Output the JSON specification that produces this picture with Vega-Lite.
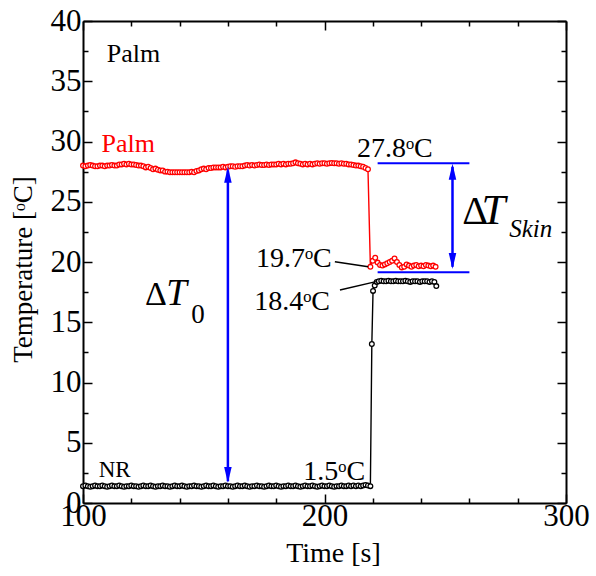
{
  "$schema": "https://vega.github.io/schema/vega-lite/v6.json",
  "width": 483,
  "height": 482,
  "autosize": {"type": "none"},
  "padding": {"left": 83, "top": 21, "right": 30, "bottom": 73},
  "config": {"view": {"stroke": null}, "font": "Liberation Serif, Times New Roman, serif"},
  "datasets": {
    "temps": [
      {"t":100,"T":28.0,"s":"Palm"},{"t":101,"T":27.95,"s":"Palm"},{"t":102,"T":28.0,"s":"Palm"},{"t":103,"T":28.05,"s":"Palm"},{"t":104,"T":28.0,"s":"Palm"},
      {"t":105,"T":27.95,"s":"Palm"},{"t":106,"T":27.95,"s":"Palm"},{"t":107,"T":28.0,"s":"Palm"},{"t":108,"T":28.0,"s":"Palm"},{"t":109,"T":27.95,"s":"Palm"},
      {"t":110,"T":28.0,"s":"Palm"},{"t":111,"T":28.0,"s":"Palm"},{"t":112,"T":28.05,"s":"Palm"},{"t":113,"T":28.0,"s":"Palm"},{"t":114,"T":28.0,"s":"Palm"},
      {"t":115,"T":28.1,"s":"Palm"},{"t":116,"T":28.1,"s":"Palm"},{"t":117,"T":28.15,"s":"Palm"},{"t":118,"T":28.1,"s":"Palm"},{"t":119,"T":28.15,"s":"Palm"},
      {"t":120,"T":28.1,"s":"Palm"},{"t":121,"T":28.1,"s":"Palm"},{"t":122,"T":28.05,"s":"Palm"},{"t":123,"T":28.0,"s":"Palm"},{"t":124,"T":28.0,"s":"Palm"},
      {"t":125,"T":27.95,"s":"Palm"},{"t":126,"T":27.85,"s":"Palm"},{"t":127,"T":27.9,"s":"Palm"},{"t":128,"T":27.8,"s":"Palm"},{"t":129,"T":27.7,"s":"Palm"},
      {"t":130,"T":27.75,"s":"Palm"},{"t":131,"T":27.65,"s":"Palm"},{"t":132,"T":27.6,"s":"Palm"},{"t":133,"T":27.6,"s":"Palm"},{"t":134,"T":27.5,"s":"Palm"},
      {"t":135,"T":27.5,"s":"Palm"},{"t":136,"T":27.45,"s":"Palm"},{"t":137,"T":27.45,"s":"Palm"},{"t":138,"T":27.45,"s":"Palm"},{"t":139,"T":27.45,"s":"Palm"},
      {"t":140,"T":27.45,"s":"Palm"},{"t":141,"T":27.45,"s":"Palm"},{"t":142,"T":27.45,"s":"Palm"},{"t":143,"T":27.45,"s":"Palm"},{"t":144,"T":27.45,"s":"Palm"},
      {"t":145,"T":27.5,"s":"Palm"},{"t":146,"T":27.45,"s":"Palm"},{"t":147,"T":27.55,"s":"Palm"},{"t":148,"T":27.6,"s":"Palm"},{"t":149,"T":27.7,"s":"Palm"},
      {"t":150,"T":27.75,"s":"Palm"},{"t":151,"T":27.7,"s":"Palm"},{"t":152,"T":27.8,"s":"Palm"},{"t":153,"T":27.8,"s":"Palm"},{"t":154,"T":27.85,"s":"Palm"},
      {"t":155,"T":27.85,"s":"Palm"},{"t":156,"T":27.85,"s":"Palm"},{"t":157,"T":27.85,"s":"Palm"},{"t":158,"T":27.9,"s":"Palm"},{"t":159,"T":27.85,"s":"Palm"},
      {"t":160,"T":27.9,"s":"Palm"},{"t":161,"T":27.95,"s":"Palm"},{"t":162,"T":27.95,"s":"Palm"},{"t":163,"T":27.9,"s":"Palm"},{"t":164,"T":27.95,"s":"Palm"},
      {"t":165,"T":27.95,"s":"Palm"},{"t":166,"T":27.95,"s":"Palm"},{"t":167,"T":28.0,"s":"Palm"},{"t":168,"T":28.05,"s":"Palm"},{"t":169,"T":28.0,"s":"Palm"},
      {"t":170,"T":28.05,"s":"Palm"},{"t":171,"T":28.0,"s":"Palm"},{"t":172,"T":28.05,"s":"Palm"},{"t":173,"T":28.1,"s":"Palm"},{"t":174,"T":28.05,"s":"Palm"},
      {"t":175,"T":28.05,"s":"Palm"},{"t":176,"T":28.1,"s":"Palm"},{"t":177,"T":28.05,"s":"Palm"},{"t":178,"T":28.1,"s":"Palm"},{"t":179,"T":28.1,"s":"Palm"},
      {"t":180,"T":28.1,"s":"Palm"},{"t":181,"T":28.15,"s":"Palm"},{"t":182,"T":28.1,"s":"Palm"},{"t":183,"T":28.15,"s":"Palm"},{"t":184,"T":28.1,"s":"Palm"},
      {"t":185,"T":28.15,"s":"Palm"},{"t":186,"T":28.15,"s":"Palm"},{"t":187,"T":28.2,"s":"Palm"},{"t":188,"T":28.27,"s":"Palm"},{"t":189,"T":28.2,"s":"Palm"},
      {"t":190,"T":28.15,"s":"Palm"},{"t":191,"T":28.1,"s":"Palm"},{"t":192,"T":28.15,"s":"Palm"},{"t":193,"T":28.1,"s":"Palm"},{"t":194,"T":28.15,"s":"Palm"},
      {"t":195,"T":28.1,"s":"Palm"},{"t":196,"T":28.15,"s":"Palm"},{"t":197,"T":28.2,"s":"Palm"},{"t":198,"T":28.15,"s":"Palm"},{"t":199,"T":28.2,"s":"Palm"},
      {"t":200,"T":28.2,"s":"Palm"},{"t":201,"T":28.15,"s":"Palm"},{"t":202,"T":28.2,"s":"Palm"},{"t":203,"T":28.22,"s":"Palm"},{"t":204,"T":28.2,"s":"Palm"},
      {"t":205,"T":28.2,"s":"Palm"},{"t":206,"T":28.15,"s":"Palm"},{"t":207,"T":28.2,"s":"Palm"},{"t":208,"T":28.15,"s":"Palm"},{"t":209,"T":28.15,"s":"Palm"},
      {"t":210,"T":28.1,"s":"Palm"},{"t":211,"T":28.1,"s":"Palm"},{"t":212,"T":28.05,"s":"Palm"},{"t":213,"T":28.0,"s":"Palm"},{"t":214,"T":28.0,"s":"Palm"},
      {"t":215,"T":27.95,"s":"Palm"},{"t":216,"T":27.9,"s":"Palm"},{"t":217,"T":27.8,"s":"Palm"},{"t":218,"T":27.7,"s":"Palm"},{"t":219,"T":19.6,"s":"Palm"},
      {"t":220,"T":20.1,"s":"Palm"},{"t":221,"T":20.35,"s":"Palm"},{"t":222,"T":19.95,"s":"Palm"},{"t":223,"T":19.75,"s":"Palm"},{"t":224,"T":19.7,"s":"Palm"},
      {"t":225,"T":19.8,"s":"Palm"},{"t":226,"T":19.9,"s":"Palm"},{"t":227,"T":20.0,"s":"Palm"},{"t":228,"T":20.1,"s":"Palm"},{"t":229,"T":20.3,"s":"Palm"},
      {"t":230,"T":20.0,"s":"Palm"},{"t":231,"T":19.75,"s":"Palm"},{"t":232,"T":19.55,"s":"Palm"},{"t":233,"T":19.6,"s":"Palm"},{"t":234,"T":19.8,"s":"Palm"},
      {"t":235,"T":19.7,"s":"Palm"},{"t":236,"T":19.6,"s":"Palm"},{"t":237,"T":19.7,"s":"Palm"},{"t":238,"T":19.75,"s":"Palm"},{"t":239,"T":19.65,"s":"Palm"},
      {"t":240,"T":19.7,"s":"Palm"},{"t":241,"T":19.65,"s":"Palm"},{"t":242,"T":19.75,"s":"Palm"},{"t":243,"T":19.7,"s":"Palm"},{"t":244,"T":19.65,"s":"Palm"},
      {"t":245,"T":19.7,"s":"Palm"},{"t":246,"T":19.6,"s":"Palm"},
      {"t":100,"T":1.4,"s":"NR"},{"t":101,"T":1.45,"s":"NR"},{"t":102,"T":1.4,"s":"NR"},{"t":103,"T":1.35,"s":"NR"},{"t":104,"T":1.4,"s":"NR"},
      {"t":105,"T":1.45,"s":"NR"},{"t":106,"T":1.4,"s":"NR"},{"t":107,"T":1.4,"s":"NR"},{"t":108,"T":1.45,"s":"NR"},{"t":109,"T":1.4,"s":"NR"},
      {"t":110,"T":1.35,"s":"NR"},{"t":111,"T":1.4,"s":"NR"},{"t":112,"T":1.45,"s":"NR"},{"t":113,"T":1.4,"s":"NR"},{"t":114,"T":1.4,"s":"NR"},
      {"t":115,"T":1.45,"s":"NR"},{"t":116,"T":1.4,"s":"NR"},{"t":117,"T":1.35,"s":"NR"},{"t":118,"T":1.4,"s":"NR"},{"t":119,"T":1.4,"s":"NR"},
      {"t":120,"T":1.45,"s":"NR"},{"t":121,"T":1.4,"s":"NR"},{"t":122,"T":1.4,"s":"NR"},{"t":123,"T":1.35,"s":"NR"},{"t":124,"T":1.4,"s":"NR"},
      {"t":125,"T":1.45,"s":"NR"},{"t":126,"T":1.4,"s":"NR"},{"t":127,"T":1.4,"s":"NR"},{"t":128,"T":1.45,"s":"NR"},{"t":129,"T":1.4,"s":"NR"},
      {"t":130,"T":1.35,"s":"NR"},{"t":131,"T":1.4,"s":"NR"},{"t":132,"T":1.4,"s":"NR"},{"t":133,"T":1.45,"s":"NR"},{"t":134,"T":1.4,"s":"NR"},
      {"t":135,"T":1.4,"s":"NR"},{"t":136,"T":1.35,"s":"NR"},{"t":137,"T":1.4,"s":"NR"},{"t":138,"T":1.45,"s":"NR"},{"t":139,"T":1.4,"s":"NR"},
      {"t":140,"T":1.4,"s":"NR"},{"t":141,"T":1.45,"s":"NR"},{"t":142,"T":1.4,"s":"NR"},{"t":143,"T":1.35,"s":"NR"},{"t":144,"T":1.4,"s":"NR"},
      {"t":145,"T":1.4,"s":"NR"},{"t":146,"T":1.45,"s":"NR"},{"t":147,"T":1.4,"s":"NR"},{"t":148,"T":1.4,"s":"NR"},{"t":149,"T":1.35,"s":"NR"},
      {"t":150,"T":1.4,"s":"NR"},{"t":151,"T":1.45,"s":"NR"},{"t":152,"T":1.4,"s":"NR"},{"t":153,"T":1.4,"s":"NR"},{"t":154,"T":1.45,"s":"NR"},
      {"t":155,"T":1.4,"s":"NR"},{"t":156,"T":1.35,"s":"NR"},{"t":157,"T":1.4,"s":"NR"},{"t":158,"T":1.4,"s":"NR"},{"t":159,"T":1.45,"s":"NR"},
      {"t":160,"T":1.4,"s":"NR"},{"t":161,"T":1.4,"s":"NR"},{"t":162,"T":1.35,"s":"NR"},{"t":163,"T":1.4,"s":"NR"},{"t":164,"T":1.45,"s":"NR"},
      {"t":165,"T":1.4,"s":"NR"},{"t":166,"T":1.4,"s":"NR"},{"t":167,"T":1.45,"s":"NR"},{"t":168,"T":1.4,"s":"NR"},{"t":169,"T":1.35,"s":"NR"},
      {"t":170,"T":1.4,"s":"NR"},{"t":171,"T":1.4,"s":"NR"},{"t":172,"T":1.45,"s":"NR"},{"t":173,"T":1.4,"s":"NR"},{"t":174,"T":1.4,"s":"NR"},
      {"t":175,"T":1.35,"s":"NR"},{"t":176,"T":1.4,"s":"NR"},{"t":177,"T":1.45,"s":"NR"},{"t":178,"T":1.4,"s":"NR"},{"t":179,"T":1.4,"s":"NR"},
      {"t":180,"T":1.45,"s":"NR"},{"t":181,"T":1.4,"s":"NR"},{"t":182,"T":1.35,"s":"NR"},{"t":183,"T":1.4,"s":"NR"},{"t":184,"T":1.4,"s":"NR"},
      {"t":185,"T":1.45,"s":"NR"},{"t":186,"T":1.4,"s":"NR"},{"t":187,"T":1.4,"s":"NR"},{"t":188,"T":1.45,"s":"NR"},{"t":189,"T":1.4,"s":"NR"},
      {"t":190,"T":1.35,"s":"NR"},{"t":191,"T":1.4,"s":"NR"},{"t":192,"T":1.45,"s":"NR"},{"t":193,"T":1.4,"s":"NR"},{"t":194,"T":1.4,"s":"NR"},
      {"t":195,"T":1.45,"s":"NR"},{"t":196,"T":1.4,"s":"NR"},{"t":197,"T":1.35,"s":"NR"},{"t":198,"T":1.4,"s":"NR"},{"t":199,"T":1.45,"s":"NR"},
      {"t":200,"T":1.4,"s":"NR"},{"t":201,"T":1.4,"s":"NR"},{"t":202,"T":1.45,"s":"NR"},{"t":203,"T":1.4,"s":"NR"},{"t":204,"T":1.35,"s":"NR"},
      {"t":205,"T":1.4,"s":"NR"},{"t":206,"T":1.4,"s":"NR"},{"t":207,"T":1.45,"s":"NR"},{"t":208,"T":1.4,"s":"NR"},{"t":209,"T":1.4,"s":"NR"},
      {"t":210,"T":1.45,"s":"NR"},{"t":211,"T":1.4,"s":"NR"},{"t":212,"T":1.45,"s":"NR"},{"t":213,"T":1.4,"s":"NR"},{"t":214,"T":1.45,"s":"NR"},
      {"t":215,"T":1.4,"s":"NR"},{"t":216,"T":1.45,"s":"NR"},{"t":217,"T":1.5,"s":"NR"},{"t":218,"T":1.45,"s":"NR"},{"t":219,"T":1.4,"s":"NR"},
      {"t":219.6,"T":13.2,"s":"NR"},{"t":220.1,"T":17.6,"s":"NR"},{"t":220.8,"T":18.05,"s":"NR"},{"t":221.6,"T":18.35,"s":"NR"},{"t":222.5,"T":18.4,"s":"NR"},
      {"t":223.5,"T":18.45,"s":"NR"},{"t":224.5,"T":18.4,"s":"NR"},{"t":225.5,"T":18.4,"s":"NR"},{"t":226.5,"T":18.45,"s":"NR"},{"t":227.5,"T":18.4,"s":"NR"},
      {"t":228.5,"T":18.4,"s":"NR"},{"t":229.5,"T":18.45,"s":"NR"},{"t":230.5,"T":18.4,"s":"NR"},{"t":231.5,"T":18.4,"s":"NR"},{"t":232.5,"T":18.4,"s":"NR"},
      {"t":233.5,"T":18.45,"s":"NR"},{"t":234.5,"T":18.4,"s":"NR"},{"t":235.5,"T":18.35,"s":"NR"},{"t":236.5,"T":18.4,"s":"NR"},{"t":237.5,"T":18.4,"s":"NR"},
      {"t":238.5,"T":18.4,"s":"NR"},{"t":239.5,"T":18.35,"s":"NR"},{"t":240.5,"T":18.4,"s":"NR"},{"t":241.5,"T":18.4,"s":"NR"},{"t":242.5,"T":18.4,"s":"NR"},
      {"t":243.5,"T":18.35,"s":"NR"},{"t":244.5,"T":18.4,"s":"NR"},{"t":245.5,"T":18.35,"s":"NR"},{"t":246.3,"T":18.0,"s":"NR"}
    ]
  },
  "resolve": {"axis": {"x": "independent", "y": "independent"}},
  "layer": [
    {
      "data": {"name": "temps"},
      "mark": {"type": "line", "strokeWidth": 1.4},
      "encoding": {
        "x": {"field": "t", "type": "quantitative",
          "scale": {"domain": [100, 300], "nice": false, "zero": false},
          "axis": {"orient": "bottom", "values": [100,120,140,160,180,200,220,240,260,280,300],
            "labelExpr": "datum.value % 100 === 0 ? datum.label : ''",
            "tickSize": {"condition": {"test": "datum.value % 100 === 0", "value": -9}, "value": -5},
            "tickWidth": 1.5, "tickColor": "black", "domainColor": "black", "domainWidth": 2,
            "labelFont": "Liberation Serif, Times New Roman, serif", "labelFontSize": 31, "labelColor": "black", "labelPadding": 7,
            "labelFlush": false, "labelOverlap": false, "grid": false,
            "title": "Time [s]", "titleFont": "Liberation Serif, Times New Roman, serif", "titleFontSize": 28, "titleFontWeight": "normal",
            "titleColor": "black", "titleX": 250, "titleY": 58, "titleBaseline": "alphabetic", "titleAlign": "center"}},
        "y": {"field": "T", "type": "quantitative",
          "scale": {"domain": [0, 40], "nice": false, "zero": false},
          "axis": {"orient": "left", "values": [0,2.5,5,7.5,10,12.5,15,17.5,20,22.5,25,27.5,30,32.5,35,37.5,40],
            "labelExpr": "datum.value % 5 === 0 ? datum.label : ''",
            "tickSize": {"condition": {"test": "datum.value % 5 === 0", "value": -9}, "value": -5},
            "tickWidth": 1.5, "tickColor": "black", "domainColor": "black", "domainWidth": 2,
            "labelFont": "Liberation Serif, Times New Roman, serif", "labelFontSize": 31, "labelColor": "black", "labelPadding": 11,
            "labelFlush": false, "labelOverlap": false, "grid": false,
            "title": "Temperature [ᵒC]", "titleFont": "Liberation Serif, Times New Roman, serif", "titleFontSize": 27, "titleFontWeight": "normal",
            "titleColor": "black", "titleAngle": -90, "titleX": -52, "titleY": 248, "titleBaseline": "alphabetic", "titleAlign": "center"}},
        "color": {"field": "s", "type": "nominal", "scale": {"domain": ["Palm", "NR"], "range": ["#ff0000", "#000000"]}, "legend": null}
      }
    },
    {
      "data": {"name": "temps"},
      "mark": {"type": "point", "shape": "circle", "filled": false, "fill": "white", "size": 22, "strokeWidth": 1.3, "opacity": 1},
      "encoding": {
        "x": {"field": "t", "type": "quantitative",
          "axis": {"orient": "top", "values": [100,120,140,160,180,200,220,240,260,280,300], "labels": false, "title": null,
            "tickSize": {"condition": {"test": "datum.value % 100 === 0", "value": -9}, "value": -5},
            "tickWidth": 1.5, "tickColor": "black", "domainColor": "black", "domainWidth": 2, "grid": false}},
        "y": {"field": "T", "type": "quantitative",
          "axis": {"orient": "right", "values": [0,2.5,5,7.5,10,12.5,15,17.5,20,22.5,25,27.5,30,32.5,35,37.5,40], "labels": false, "title": null,
            "tickSize": {"condition": {"test": "datum.value % 5 === 0", "value": -9}, "value": -5},
            "tickWidth": 1.5, "tickColor": "black", "domainColor": "black", "domainWidth": 2, "grid": false}},
        "stroke": {"field": "s", "type": "nominal", "scale": {"domain": ["Palm", "NR"], "range": ["#ff0000", "#000000"]}, "legend": null}
      }
    },
    {
      "data": {"values": [{"a": 222, "b": 260, "T": 28.2}, {"a": 222, "b": 260, "T": 19.15}]},
      "mark": {"type": "rule", "color": "#0000ff", "strokeWidth": 2},
      "encoding": {
        "x": {"field": "a", "type": "quantitative", "axis": null},
        "x2": {"field": "b"},
        "y": {"field": "T", "type": "quantitative", "axis": null}
      }
    },
    {
      "data": {"values": [{"a": 160, "T": 1.8, "T2": 27.6}, {"a": 253, "T": 19.6, "T2": 27.9}]},
      "mark": {"type": "rule", "color": "#0000ff", "strokeWidth": 2.5},
      "encoding": {
        "x": {"field": "a", "type": "quantitative", "axis": null},
        "y": {"field": "T", "type": "quantitative", "axis": null},
        "y2": {"field": "T2"}
      }
    },
    {
      "data": {"values": [{"a": 160, "T": 27.24}, {"a": 253, "T": 27.49}]},
      "mark": {"type": "point", "shape": "M0,-1L-0.47,1L0.47,1Z", "filled": true, "color": "#0000ff", "size": 256, "opacity": 1},
      "encoding": {
        "x": {"field": "a", "type": "quantitative", "axis": null},
        "y": {"field": "T", "type": "quantitative", "axis": null}
      }
    },
    {
      "data": {"values": [{"a": 160, "T": 2.32}, {"a": 253, "T": 20.08}]},
      "mark": {"type": "point", "shape": "M0,1L-0.47,-1L0.47,-1Z", "filled": true, "color": "#0000ff", "size": 256, "opacity": 1},
      "encoding": {
        "x": {"field": "a", "type": "quantitative", "axis": null},
        "y": {"field": "T", "type": "quantitative", "axis": null}
      }
    },
    {
      "data": {"values": [{"a": 204.3, "T": 20.03, "b": 218.1, "T2": 19.6}, {"a": 206.4, "T": 17.68, "b": 221.3, "T2": 18.37}]},
      "mark": {"type": "rule", "color": "black", "strokeWidth": 1.5},
      "encoding": {
        "x": {"field": "a", "type": "quantitative", "axis": null},
        "y": {"field": "T", "type": "quantitative", "axis": null},
        "x2": {"field": "b"},
        "y2": {"field": "T2"}
      }
    },
    {
      "data": {"values": [{"a": 109.8, "T": 36.62, "txt": "Palm"}]},
      "mark": {"type": "text", "font": "Liberation Serif, Times New Roman, serif", "fontSize": 26, "align": "left", "baseline": "alphabetic", "color": "black"},
      "encoding": {
        "x": {"field": "a", "type": "quantitative", "axis": null},
        "y": {"field": "T", "type": "quantitative", "axis": null},
        "text": {"field": "txt"}
      }
    },
    {
      "data": {"values": [{"a": 107.7, "T": 29.15, "txt": "Palm"}]},
      "mark": {"type": "text", "font": "Liberation Serif, Times New Roman, serif", "fontSize": 26, "align": "left", "baseline": "alphabetic", "color": "#ff0000"},
      "encoding": {
        "x": {"field": "a", "type": "quantitative", "axis": null},
        "y": {"field": "T", "type": "quantitative", "axis": null},
        "text": {"field": "txt"}
      }
    },
    {
      "data": {"values": [{"a": 106.5, "T": 2.18, "txt": "NR"}]},
      "mark": {"type": "text", "font": "Liberation Serif, Times New Roman, serif", "fontSize": 23, "align": "left", "baseline": "alphabetic", "color": "black"},
      "encoding": {
        "x": {"field": "a", "type": "quantitative", "axis": null},
        "y": {"field": "T", "type": "quantitative", "axis": null},
        "text": {"field": "txt"}
      }
    },
    {
      "data": {"values": [
        {"a": 244.8, "T": 28.71, "txt": "27.8ᵒC"},
        {"a": 203.0, "T": 19.56, "txt": "19.7ᵒC"},
        {"a": 202.3, "T": 16.02, "txt": "18.4ᵒC"},
        {"a": 216.8, "T": 1.91, "txt": "1.5ᵒC"}
      ]},
      "mark": {"type": "text", "font": "Liberation Serif, Times New Roman, serif", "fontSize": 28, "align": "right", "baseline": "alphabetic", "color": "black"},
      "encoding": {
        "x": {"field": "a", "type": "quantitative", "axis": null},
        "y": {"field": "T", "type": "quantitative", "axis": null},
        "text": {"field": "txt"}
      }
    },
    {
      "data": {"values": [{"a": 125.7, "T": 16.43, "txt": "Δ"}]},
      "mark": {"type": "text", "font": "Liberation Serif, Times New Roman, serif", "fontSize": 34, "align": "left", "baseline": "alphabetic", "color": "black"},
      "encoding": {
        "x": {"field": "a", "type": "quantitative", "axis": null},
        "y": {"field": "T", "type": "quantitative", "axis": null},
        "text": {"field": "txt"}
      }
    },
    {
      "data": {"values": [{"a": 134.5, "T": 16.43, "txt": "T"}]},
      "mark": {"type": "text", "font": "Liberation Serif, Times New Roman, serif", "fontSize": 37, "fontStyle": "italic", "align": "left", "baseline": "alphabetic", "color": "black"},
      "encoding": {
        "x": {"field": "a", "type": "quantitative", "axis": null},
        "y": {"field": "T", "type": "quantitative", "axis": null},
        "text": {"field": "txt"}
      }
    },
    {
      "data": {"values": [{"a": 144.8, "T": 14.9, "txt": "0"}]},
      "mark": {"type": "text", "font": "Liberation Serif, Times New Roman, serif", "fontSize": 27, "align": "left", "baseline": "alphabetic", "color": "black"},
      "encoding": {
        "x": {"field": "a", "type": "quantitative", "axis": null},
        "y": {"field": "T", "type": "quantitative", "axis": null},
        "text": {"field": "txt"}
      }
    },
    {
      "data": {"values": [{"a": 257.0, "T": 23.15, "txt": "Δ"}]},
      "mark": {"type": "text", "font": "Liberation Serif, Times New Roman, serif", "fontSize": 40, "align": "left", "baseline": "alphabetic", "color": "black"},
      "encoding": {
        "x": {"field": "a", "type": "quantitative", "axis": null},
        "y": {"field": "T", "type": "quantitative", "axis": null},
        "text": {"field": "txt"}
      }
    },
    {
      "data": {"values": [{"a": 265.0, "T": 23.15, "txt": "T"}]},
      "mark": {"type": "text", "font": "Liberation Serif, Times New Roman, serif", "fontSize": 43, "fontStyle": "italic", "align": "left", "baseline": "alphabetic", "color": "black"},
      "encoding": {
        "x": {"field": "a", "type": "quantitative", "axis": null},
        "y": {"field": "T", "type": "quantitative", "axis": null},
        "text": {"field": "txt"}
      }
    },
    {
      "data": {"values": [{"a": 276.5, "T": 22.1, "txt": "Skin"}]},
      "mark": {"type": "text", "font": "Liberation Serif, Times New Roman, serif", "fontSize": 25, "fontStyle": "italic", "align": "left", "baseline": "alphabetic", "color": "black"},
      "encoding": {
        "x": {"field": "a", "type": "quantitative", "axis": null},
        "y": {"field": "T", "type": "quantitative", "axis": null},
        "text": {"field": "txt"}
      }
    }
  ]
}
